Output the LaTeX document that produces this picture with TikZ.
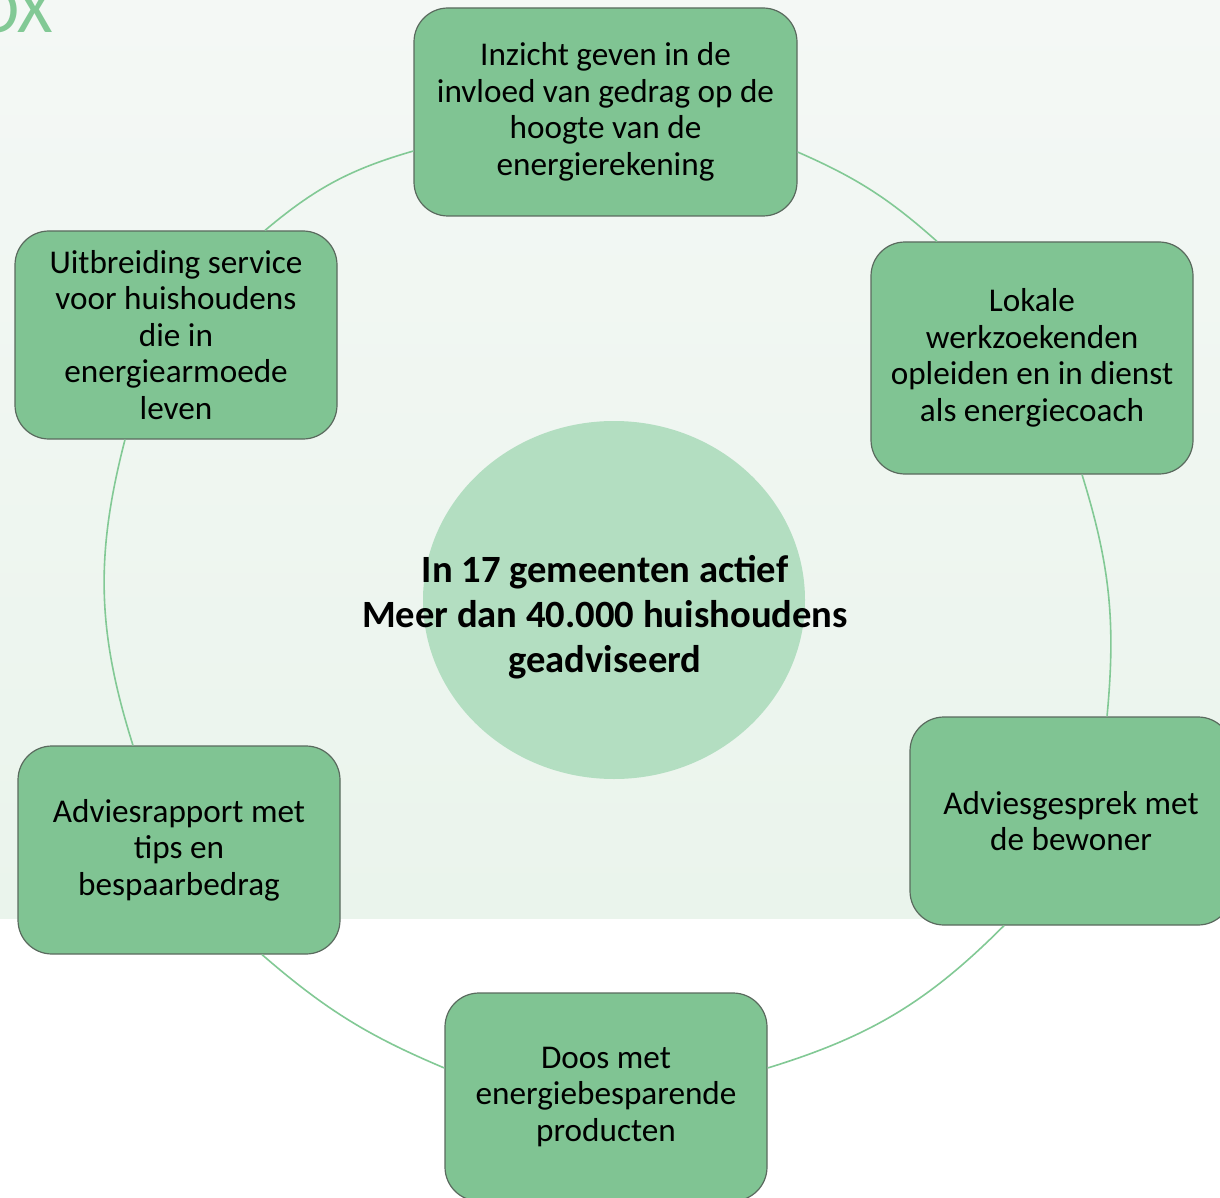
\documentclass[tikz,border=0pt]{standalone}
\usepackage{fontspec}
\setmainfont{Carlito}
\usetikzlibrary{shapes.geometric}
\definecolor{bgtop}{HTML}{F4F8F5}
\definecolor{bgbot}{HTML}{EAF4EC}
\definecolor{boxfill}{HTML}{80C493}
\definecolor{boxline}{HTML}{5A6A5E}
\definecolor{ringc}{HTML}{82C995}
\definecolor{hubfill}{HTML}{B3DEC1}
\tikzset{
  stepbox/.style={draw=boxline, line width=0.6pt, fill=boxfill, rounded corners=17pt,
    align=center, inner sep=0pt, minimum width=161pt, minimum height=104pt,
    font=\fontsize{16.6}{18.25}\selectfont},
  ring/.style={draw=ringc, line width=0.8pt},
}
\begin{document}
\begin{tikzpicture}[x=0.5pt,y=0.5pt]
\useasboundingbox (0,0) rectangle (1220,-1198);
\begin{scope}
\clip (0,0) rectangle (1220,-1198);
\fill[white] (0,0) rectangle (1220,-1198);
\shade[top color=bgtop, bottom color=bgbot] (0,0) rectangle (1220,-918);
\node[anchor=base east, text=ringc, inner sep=0pt, font=\fontsize{34}{36}\selectfont] (title) at (53,-33) {OX};

\node[ellipse, fill=hubfill, minimum width=191pt, minimum height=179pt, inner sep=0pt] (hub) at (614,-600) {};
\node[align=center, font=\bfseries\fontsize{19.3}{22.5}\selectfont] (hubtext) at (605,-617)
  {In 17 gemeenten actief\\Meer dan 40.000 huishoudens\\geadviseerd};

\node[stepbox, minimum width=191.5pt] (T) at (605.5,-112)
  {Inzicht geven in de\\invloed van gedrag op de\\hoogte van de\\energierekening};
\node[stepbox, minimum height=116pt] (RU) at (1032,-358)
  {Lokale\\werkzoekenden\\opleiden en in dienst\\als energiecoach};
\node[stepbox] (RL) at (1071,-821) {Adviesgesprek met\\de bewoner};
\node[stepbox] (B) at (606,-1097) {Doos met\\energiebesparende\\producten};
\node[stepbox] (LL) at (179,-850) {Adviesrapport met\\tips en\\bespaarbedrag};
\node[stepbox] (LU) at (176,-335) {Uitbreiding service\\voor huishoudens\\die in\\energiearmoede\\leven};

\draw[ring] ([yshift=-20pt]T.east) to[bend left=9] ([xshift=-47.5pt]RU.north);
\draw[ring] ([xshift=25pt]RU.south) to[bend left=11.3] ([xshift=18pt]RL.north);
\draw[ring] ([xshift=-33.5pt]RL.south) to[bend left=14] ([yshift=14.5pt]B.east);
\draw[ring] ([yshift=14.5pt]B.west) to[bend left=9] ([xshift=41.5pt]LL.south);
\draw[ring] ([xshift=-23pt]LL.north) to[bend left=16] ([xshift=-25.5pt]LU.south);
\draw[ring] ([xshift=44.5pt]LU.north) to[bend left=12] ([yshift=-19.5pt]T.west);
\end{scope}
\end{tikzpicture}
\end{document}
